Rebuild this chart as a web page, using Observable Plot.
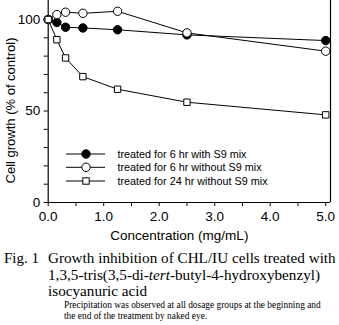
<!DOCTYPE html>
<html>
<head>
<meta charset="utf-8">
<script src="https://cdn.jsdelivr.net/npm/d3@7"></script>
<script src="https://cdn.jsdelivr.net/npm/@observablehq/plot@0.6"></script>
<style>
  html, body { margin: 0; padding: 0; background: #fff; }
  #wrap { position: relative; width: 339px; height: 325px; overflow: hidden; }
  #wrap svg { display: block; }
  #overlay { position: absolute; left: 0; top: 0; }
</style>
</head>
<body>
<div id="wrap"></div>
<script>
// ---- data ----
const doses = [0, 0.156, 0.313, 0.625, 1.25, 2.5, 5.0];
const growth6hWithS9 = [100, 98.4, 95.8, 95.4, 94.4, 91.6, 88.5];
const growth6hWithoutS9 = [100, 102.7, 104.0, 103.4, 104.5, 92.7, 82.7];
const growth24hWithoutS9 = [100, 89.0, 79.0, 68.8, 61.9, 54.8, 47.9];
const seriesNames = [
  "treated for 6 hr with S9 mix",
  "treated for 6 hr without S9 mix",
  "treated for 24 hr without S9 mix"
];
const xTicks = [0, 0.5, 1, 1.5, 2, 2.5, 3, 3.5, 4, 4.5, 5];
const xTickLabels = ["0.0", "", "1.0", "", "2.0", "", "3.0", "", "4.0", "", "5.0"];
const yTicks = [0, 10, 20, 30, 40, 50, 60, 70, 80, 90, 100];
const yTickLabels = ["0", "", "", "", "", "50", "", "", "", "", "100"];
const xLabel = "Concentration (mg/mL)";
const yLabel = "Cell growth (% of control)";
const xDomain = [0, 5.086];
const yDomain = [0, 110.4];

const rows = (vals, s) => doses.map((d, i) => ({dose: d, value: vals[i], series: s}));
const s1 = rows(growth6hWithS9, seriesNames[0]);
const s2 = rows(growth6hWithoutS9, seriesNames[1]);
const s3 = rows(growth24hWithoutS9, seriesNames[2]);

const font = "'Liberation Sans', Arial, Helvetica, sans-serif";

const chart = Plot.plot({
  width: 339,
  height: 245,
  marginLeft: 47.7,
  marginRight: 9,
  marginTop: 0,
  marginBottom: 43,
  style: {fontFamily: font, fontSize: "13.5px", color: "#000", background: "#fff"},
  x: {domain: xDomain},
  y: {domain: yDomain},
  marks: [
    Plot.ruleX([xDomain[0]], {stroke: "#000", strokeWidth: 1.2}),
    Plot.ruleX([xDomain[1]], {stroke: "#000", strokeWidth: 1.2}),
    Plot.ruleY([yDomain[0]], {stroke: "#000", strokeWidth: 1.2}),
    Plot.axisX(xTicks, {tickSize: 4, tickPadding: 5, tickFormat: (d, i) => xTickLabels[i], label: null, fontSize: 13.5}),
    Plot.axisY(yTicks, {tickSize: 4, tickPadding: 4, tickFormat: (d, i) => yTickLabels[i], label: null, fontSize: 13.5}),
    Plot.text([xLabel], {frameAnchor: "bottom", dy: 37, dx: -10, lineAnchor: "bottom", textAnchor: "middle", fontSize: 13.5, text: d => d}),
    Plot.text([yLabel], {frameAnchor: "left", rotate: -90, dx: -37.7, dy: 9, lineAnchor: "middle", textAnchor: "middle", fontSize: 13, text: d => d}),
    Plot.line(s1, {x: "dose", y: "value", stroke: "#000", strokeWidth: 1}),
    Plot.line(s2, {x: "dose", y: "value", stroke: "#000", strokeWidth: 1}),
    Plot.line(s3, {x: "dose", y: "value", stroke: "#000", strokeWidth: 1}),
    Plot.dot(s1, {x: "dose", y: "value", r: 4.2, fill: "#000", stroke: "#000", strokeWidth: 1}),
    Plot.dot(s2, {x: "dose", y: "value", r: 4.2, fill: "#fff", stroke: "#000", strokeWidth: 1}),
    Plot.dot(s3, {x: "dose", y: "value", r: 3.6, symbol: "square", fill: "#fff", stroke: "#000", strokeWidth: 1})
  ]
});

const wrap = document.getElementById("wrap");
wrap.appendChild(chart);

// ---- legend and caption overlay ----
const svg = d3.select(wrap).append("svg")
  .attr("id", "overlay")
  .attr("width", 339).attr("height", 325);

const legendY = [154, 167.3, 181];
const lg = svg.append("g").attr("font-family", font).attr("font-size", 10.8);
seriesNames.forEach((name, i) => {
  const y = legendY[i];
  lg.append("line").attr("x1", 66).attr("x2", 105).attr("y1", y).attr("y2", y)
    .attr("stroke", "#000").attr("stroke-width", 1);
  if (i === 0) {
    lg.append("circle").attr("cx", 86).attr("cy", y).attr("r", 4.2).attr("fill", "#000").attr("stroke", "#000");
  } else if (i === 1) {
    lg.append("circle").attr("cx", 86).attr("cy", y).attr("r", 4.2).attr("fill", "#fff").attr("stroke", "#000");
  } else {
    lg.append("rect").attr("x", 86 - 3.2).attr("y", y - 3.2).attr("width", 6.4).attr("height", 6.4)
      .attr("fill", "#fff").attr("stroke", "#000");
  }
  lg.append("text").attr("x", 117.5).attr("y", y).attr("dy", "0.35em").text(name);
});

const serif = "'Liberation Serif', 'Times New Roman', serif";
const cap = svg.append("g").attr("font-family", serif).attr("fill", "#000");
cap.append("text").attr("x", 4).attr("y", 262.7).attr("font-size", 15).text("Fig. 1");
cap.append("text").attr("x", 48).attr("y", 262.7).attr("font-size", 15.2)
  .text("Growth inhibition of CHL/IU cells treated with");
const l2 = cap.append("text").attr("x", 48).attr("y", 279.5).attr("font-size", 15.2);
l2.append("tspan").text("1,3,5-tris(3,5-di-");
l2.append("tspan").attr("font-style", "italic").text("tert");
l2.append("tspan").text("-butyl-4-hydroxybenzyl)");
cap.append("text").attr("x", 48).attr("y", 296).attr("font-size", 15.2).text("isocyanuric acid");
cap.append("text").attr("x", 64).attr("y", 307.5).attr("font-size", 9.4)
  .text("Precipitation was observed at all dosage groups at the beginning and");
cap.append("text").attr("x", 64).attr("y", 318.5).attr("font-size", 9.4)
  .text("the end of the treatment by naked eye.");
</script>
</body>
</html>
